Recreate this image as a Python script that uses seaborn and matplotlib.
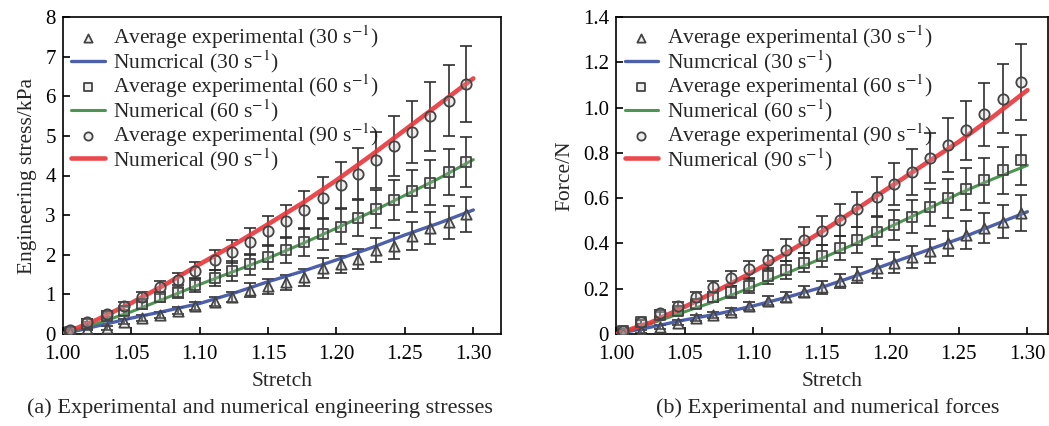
import numpy as np
import pandas as pd
import matplotlib
matplotlib.use("Agg")
import matplotlib.pyplot as plt
import seaborn as sns

# ---------------- data ----------------
stretch_exp = [1.005, 1.018, 1.032, 1.045, 1.058, 1.071, 1.084, 1.097, 1.111, 1.124,
               1.137, 1.150, 1.163, 1.176, 1.190, 1.203, 1.216, 1.229, 1.242, 1.255,
               1.268, 1.282, 1.295]
stretch_num = [1.000, 1.025, 1.050, 1.075, 1.100, 1.125, 1.150, 1.175, 1.200, 1.225,
               1.250, 1.275, 1.300]

# (a) engineering stress, kPa
stress_exp30 = [0.05, 0.12, 0.15, 0.31, 0.41, 0.48, 0.59, 0.71, 0.82, 0.93, 1.11, 1.20,
                1.30, 1.43, 1.66, 1.76, 1.89, 2.12, 2.22, 2.47, 2.67, 2.82, 3.02]
stress_err30 = [0.02, 0.03, 0.04, 0.06, 0.07, 0.08, 0.09, 0.10, 0.11, 0.12, 0.17, 0.18,
                0.20, 0.22, 0.25, 0.22, 0.25, 0.30, 0.33, 0.35, 0.40, 0.42, 0.45]
stress_exp60 = [0.06, 0.25, 0.46, 0.58, 0.75, 0.93, 1.07, 1.23, 1.41, 1.59, 1.76, 1.95,
                2.12, 2.32, 2.52, 2.71, 2.94, 3.16, 3.38, 3.60, 3.82, 4.08, 4.34]
stress_err60 = [0.03, 0.05, 0.07, 0.09, 0.11, 0.13, 0.16, 0.18, 0.21, 0.24, 0.27, 0.30,
                0.33, 0.36, 0.40, 0.44, 0.46, 0.48, 0.50, 0.53, 0.56, 0.58, 0.62]
stress_exp90 = [0.10, 0.31, 0.50, 0.71, 0.93, 1.18, 1.36, 1.60, 1.87, 2.08, 2.33, 2.60,
                2.84, 3.13, 3.43, 3.76, 4.04, 4.39, 4.75, 5.09, 5.49, 5.89, 6.31]
stress_err90 = [0.03, 0.06, 0.08, 0.10, 0.13, 0.16, 0.19, 0.22, 0.26, 0.30, 0.34, 0.38,
                0.42, 0.47, 0.52, 0.58, 0.65, 0.70, 0.75, 0.78, 0.88, 0.90, 0.95]
stress_num30 = [0.0, 0.20, 0.40, 0.58, 0.77, 1.03, 1.32, 1.58, 1.87, 2.17, 2.50, 2.80, 3.13]
stress_num60 = [0.0, 0.26, 0.56, 0.90, 1.25, 1.58, 1.91, 2.28, 2.67, 3.07, 3.50, 3.93, 4.40]
stress_num90 = [0.0, 0.36, 0.78, 1.25, 1.76, 2.25, 2.77, 3.30, 3.88, 4.50, 5.15, 5.80, 6.45]

# (b) force, N
force_exp30 = [0.005, 0.012, 0.030, 0.050, 0.070, 0.084, 0.098, 0.125, 0.146, 0.165,
               0.187, 0.206, 0.235, 0.260, 0.290, 0.315, 0.339, 0.366, 0.400, 0.437,
               0.467, 0.496, 0.533]
force_err30 = [0.004, 0.006, 0.008, 0.010, 0.012, 0.014, 0.016, 0.018, 0.020, 0.022,
               0.025, 0.028, 0.032, 0.036, 0.042, 0.045, 0.048, 0.052, 0.056, 0.060,
               0.066, 0.072, 0.080]
force_exp60 = [0.015, 0.054, 0.084, 0.100, 0.132, 0.165, 0.187, 0.212, 0.256, 0.283,
               0.315, 0.344, 0.380, 0.415, 0.452, 0.481, 0.518, 0.559, 0.599, 0.639,
               0.678, 0.724, 0.768]
force_err60 = [0.004, 0.008, 0.012, 0.015, 0.018, 0.022, 0.026, 0.030, 0.034, 0.038,
               0.043, 0.048, 0.053, 0.058, 0.063, 0.068, 0.074, 0.080, 0.086, 0.092,
               0.098, 0.104, 0.112]
force_exp90 = [0.015, 0.054, 0.091, 0.124, 0.162, 0.206, 0.246, 0.286, 0.327, 0.371,
               0.415, 0.456, 0.503, 0.550, 0.606, 0.662, 0.717, 0.776, 0.834, 0.900,
               0.970, 1.040, 1.114]
force_err90 = [0.005, 0.010, 0.014, 0.018, 0.022, 0.027, 0.032, 0.037, 0.043, 0.050,
               0.056, 0.063, 0.070, 0.078, 0.086, 0.094, 0.102, 0.110, 0.120, 0.130,
               0.140, 0.152, 0.167]
force_num30 = [0.0, 0.030, 0.062, 0.090, 0.124, 0.163, 0.206, 0.257, 0.312, 0.366, 0.420, 0.480, 0.540]
force_num60 = [0.0, 0.045, 0.098, 0.150, 0.209, 0.270, 0.334, 0.400, 0.474, 0.545, 0.620, 0.685, 0.745]
force_num90 = [0.0, 0.050, 0.120, 0.195, 0.275, 0.360, 0.452, 0.550, 0.650, 0.750, 0.849, 0.960, 1.077]

exp_labels = ["Average experimental (30 s$^{-1}$)",
              "Average experimental (60 s$^{-1}$)",
              "Average experimental (90 s$^{-1}$)"]
num_labels = ["Numcrical (30 s$^{-1}$)",
              "Numerical (60 s$^{-1}$)",
              "Numerical (90 s$^{-1}$)"]
x_ticks = [1.00, 1.05, 1.10, 1.15, 1.20, 1.25, 1.30]
x_ticklabels = ["1.00", "1.05", "1.10", "1.15", "1.20", "1.25", "1.30"]
ya_ticks = [0, 1, 2, 3, 4, 5, 6, 7, 8]
ya_ticklabels = ["0", "1", "2", "3", "4", "5", "6", "7", "8"]
yb_ticks = [0, 0.2, 0.4, 0.6, 0.8, 1.0, 1.2, 1.4]
yb_ticklabels = ["0", "0.2", "0.4", "0.6", "0.8", "1.0", "1.2", "1.4"]

# ---------------- style ----------------
sns.set_style("ticks")
plt.rcParams["font.family"] = ["Liberation Serif", "DejaVu Serif"]
plt.rcParams["mathtext.fontset"] = "stix"
plt.rcParams["font.size"] = 15

line_colors = ["#3a4fa0", "#3a8a3f", "#e8353a"]
line_widths = [2.4, 2.2, 3.3]
markers = ["^", "s", "o"]
edge = "#444444"
err_color = "#2e2e2e"

fig = plt.figure(figsize=(10.49, 4.26), dpi=100)
ax_a = fig.add_axes([62.7 / 1049, 1 - 334 / 426, 438 / 1049, 317 / 426])
ax_b = fig.add_axes([616 / 1049, 1 - 334 / 426, 432 / 1049, 317 / 426])


def draw_panel(ax, exps, errs, nums, ylim, yticks, yticklabels, ylabel):
    for i in range(3):
        df_e = pd.DataFrame({"x": stretch_exp, "y": exps[i]})
        df_n = pd.DataFrame({"x": stretch_num, "y": nums[i]})
        ax.errorbar(df_e["x"], df_e["y"], yerr=errs[i], fmt="none",
                    ecolor=err_color, elinewidth=1.4, capsize=4.0, capthick=1.4,
                    alpha=0.85, zorder=2)
        sns.lineplot(data=df_n, x="x", y="y", ax=ax, color=line_colors[i],
                     linewidth=line_widths[i], alpha=0.9, zorder=3,
                     label=num_labels[i], legend=False)
        sns.scatterplot(data=df_e, x="x", y="y", ax=ax, marker=markers[i],
                        s=55, facecolor=(0.75, 0.75, 0.75, 0.25), edgecolor=edge,
                        linewidth=1.3, zorder=4, label=exp_labels[i], legend=False)
    h, l = ax.get_legend_handles_labels()
    order = []
    for i in range(3):
        order.append(l.index(exp_labels[i]))
        order.append(l.index(num_labels[i]))
    ax.legend([h[k] for k in order], [l[k] for k in order],
              loc="upper left", frameon=False, fontsize=15.5,
              handlelength=1.55, handletextpad=0.4, labelspacing=-0.12,
              borderaxespad=0.0, borderpad=0.0,
              bbox_to_anchor=(0.02, 0.98), markerscale=0.8)
    ax.set_ylim(*ylim)
    ax.set_xticks(x_ticks)
    ax.set_xticklabels(x_ticklabels)
    ax.set_yticks(yticks)
    ax.set_yticklabels(yticklabels)
    ax.tick_params(direction="in", length=5, width=1.2, labelsize=15,
                   top=False, right=False, colors="black")
    ax.tick_params(axis="x", pad=8)
    ax.tick_params(axis="y", pad=5)
    for s in ax.spines.values():
        s.set_linewidth(1.2)
        s.set_color("black")
    ax.set_xlabel("Stretch", fontsize=15.5, labelpad=6)
    ax.set_ylabel(ylabel, fontsize=15.5, labelpad=6)


draw_panel(ax_a, [stress_exp30, stress_exp60, stress_exp90],
           [stress_err30, stress_err60, stress_err90],
           [stress_num30, stress_num60, stress_num90],
           (0, 8), ya_ticks, ya_ticklabels, "Engineering stress/kPa")
ax_a.set_xlim(1.0, 1.32)

draw_panel(ax_b, [force_exp30, force_exp60, force_exp90],
           [force_err30, force_err60, force_err90],
           [force_num30, force_num60, force_num90],
           (0, 1.4), yb_ticks, yb_ticklabels, "Force/N")
ax_b.set_xlim(1.0, 1.315)

fig.text(260 / 1049, 1 - 408 / 426, "(a) Experimental and numerical engineering stresses",
         ha="center", va="center", fontsize=16)
fig.text(828 / 1049, 1 - 408 / 426, "(b) Experimental and numerical forces",
         ha="center", va="center", fontsize=16)

fig.savefig("out.png", dpi=100)
